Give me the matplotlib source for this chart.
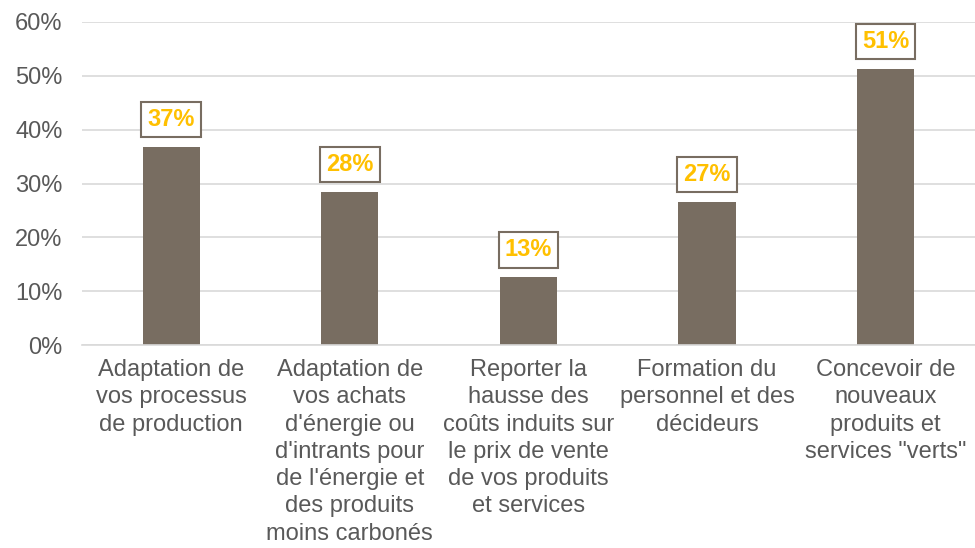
import matplotlib.pyplot as plt
import numpy as np

plt.rcParams['font.family'] = ['Liberation Sans', 'DejaVu Sans']

categories = [
    "Adaptation de\nvos processus\nde production",
    "Adaptation de\nvos achats\nd'énergie ou\nd'intrants pour\nde l'énergie et\ndes produits\nmoins carbonés",
    "Reporter la\nhausse des\ncoûts induits sur\nle prix de vente\nde vos produits\net services",
    "Formation du\npersonnel et des\ndécideurs",
    "Concevoir de\nnouveaux\nproduits et\nservices \"verts\"",
]
values = [0.368, 0.284, 0.126, 0.266, 0.513]
labels = ["37%", "28%", "13%", "27%", "51%"]

bar_color = '#786d61'
text_gray = '#595959'

fig = plt.figure(figsize=(9.75, 5.48), dpi=100)
ax = fig.add_axes([0.084, 0.37, 0.916, 0.59])

x = np.arange(len(categories))
ax.bar(x, values, width=0.32, color=bar_color, zorder=2)

for xi, v, lab in zip(x, values, labels):
    ax.annotate(lab, (xi, v), xytext=(0, 11.5), textcoords='offset points',
                ha='center', va='bottom', fontsize=17, fontweight='bold',
                color='#ffc000', zorder=3,
                bbox=dict(boxstyle='square,pad=0.26', fc='white',
                          ec=bar_color, lw=1.5))

ax.set_xlim(-0.5, len(categories) - 0.5)
ax.set_ylim(0, 0.6)
ax.set_yticks(np.arange(0, 0.61, 0.1))
ax.set_yticklabels([f"{int(round(t * 100))}%" for t in np.arange(0, 0.61, 0.1)])
ax.yaxis.grid(True, color='#d9d9d9', lw=1.2, zorder=0)
ax.set_axisbelow(True)

ax.set_xticks(x)
ax.set_xticklabels(categories, fontsize=17, color=text_gray, linespacing=1.31)
ax.tick_params(axis='y', labelsize=17, labelcolor=text_gray, length=0, pad=14)
ax.tick_params(axis='x', length=0, pad=10)

for s in ['top', 'right', 'left']:
    ax.spines[s].set_visible(False)
ax.spines['bottom'].set_color('#d9d9d9')
ax.spines['bottom'].set_linewidth(1.2)

fig.savefig('out.png', dpi=100)
